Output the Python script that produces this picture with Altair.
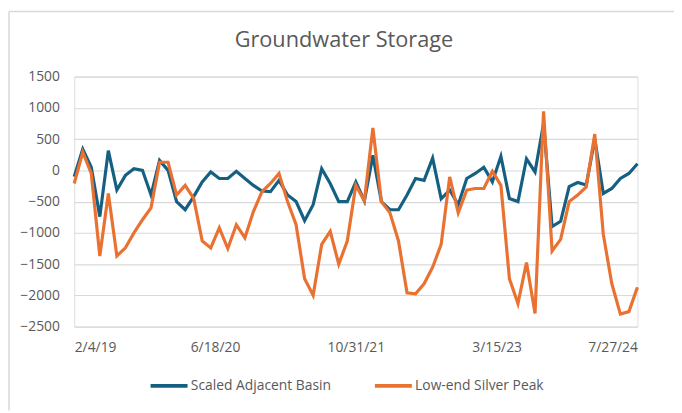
import altair as alt
import pandas as pd

series_names = ["Scaled Adjacent Basin", "Low-end Silver Peak"]
series_colors = ["#156082", "#E97132"]

basin = [-100, 340, 50, -740, 315, -315, -80, 25, 0, -395, 160, 0, -500, -630, -420, -185, -25,
         -130, -130, -15, -130, -240, -330, -340, -160, -395, -500, -805, -550, 25, -210, -500, -500,
         -185, -490, 240, -500, -630, -630, -395, -130, -160, 195, -455, -315, -550, -130, -50, 50,
         -185, 225, -450, -500, 185, -25, 750, -900, -815, -260, -195, -235, 500, -370, -290, -130, -50, 105]

silver = [-210, 290, -50, -1370, -370, -1370, -1240, -1000, -790, -600, 130, 130, -395, -240, -450, -1130, -1240,
          -920, -1250, -870, -1080, -660, -340, -210, -50, -500, -870, -1735, -2000, -1185, -975, -1500, -1130,
          -240, -490, 680, -500, -680, -1130, -1960, -1975, -1815, -1550, -1185, -105, -680, -315, -290, -290,
          -15, -240, -1735, -2130, -1475, -2290, 945, -1290, -1105, -500, -395, -265, 580, -1025, -1815, -2300, -2260, -1870]

start_date = "2019-02-04"
end_date = "2024-07-27"
tick_dates = [(2019, 2, 4), (2020, 6, 18), (2021, 10, 31), (2023, 3, 15), (2024, 7, 27)]
y_ticks = [-2500, -2000, -1500, -1000, -500, 0, 500, 1000, 1500]
title_text = "Groundwater Storage"

n = len(basin)
dates = pd.date_range(start_date, end_date, periods=n)
date_str = [d.strftime("%Y-%m-%dT%H:%M:%SZ") for d in dates]

df = pd.DataFrame({
    "date": date_str + date_str,
    "value": basin + silver,
    "series": [series_names[0]] * n + [series_names[1]] * n,
})

FONT = "Open Sans"
GRAY = "#595959"

x_enc = alt.X(
    "date:T",
    scale=alt.Scale(
        type="utc",
        domain=[alt.DateTime(year=2019, month=2, date=4, utc=True),
                alt.DateTime(year=2024, month=7, date=27, utc=True)],
        nice=False,
    ),
    axis=alt.Axis(
        values=[alt.DateTime(year=y, month=m, date=d, utc=True) for (y, m, d) in tick_dates],
        format="%-m/%-d/%y",
        title=None,
        domain=False,
        ticks=False,
        grid=False,
        labelPadding=14,
        labelFontSize=14,
        labelColor=GRAY,
        labelFont=FONT,
    ),
)
y_enc = alt.Y(
    "value:Q",
    scale=alt.Scale(domain=[-2500, 1500], nice=False),
    axis=alt.Axis(
        values=y_ticks,
        format="d",
        title=None,
        domain=False,
        ticks=False,
        grid=True,
        gridColor="#d9d9d9",
        gridWidth=1.2,
        labelPadding=15,
        labelFontSize=14,
        labelColor=GRAY,
        labelFont=FONT,
    ),
)
color_enc = alt.Color(
    "series:N",
    scale=alt.Scale(domain=series_names, range=series_colors),
    legend=alt.Legend(
        title=None,
        orient="none",
        direction="horizontal",
        legendX=75,
        legendY=292,
        symbolType="stroke",
        symbolSize=1400,
        symbolStrokeWidth=4,
        labelOffset=1,
        columnPadding=36,
        labelFontSize=14,
        labelColor=GRAY,
        labelFont=FONT,
    ),
)

base = alt.Chart(df).mark_line(strokeWidth=3.2, strokeJoin="miter").encode(
    x=x_enc, y=y_enc, color=color_enc
)
line_blue = base.transform_filter(alt.datum.series == series_names[0])
line_orange = base.transform_filter(alt.datum.series == series_names[1])

frame_data = alt.Data(values=[{"k": 1}])
top_border = alt.Chart(frame_data).mark_rule(color="#d9d9d9", strokeWidth=1.5).encode(
    x=alt.value(-66), x2=alt.value(607), y=alt.value(-66)
)
left_border = alt.Chart(frame_data).mark_rule(color="#d9d9d9", strokeWidth=1.5).encode(
    x=alt.value(-66), y=alt.value(-66), y2=alt.value(338)
)
title_mark = alt.Chart(alt.Data(values=[{"t": title_text}])).mark_text(
    font=FONT, fontSize=22, color=GRAY, align="center", baseline="alphabetic"
).encode(
    x=alt.value(273), y=alt.value(-30), text="t:N"
)

chart = alt.layer(top_border, left_border, title_mark, line_blue, line_orange).properties(
    width=570,
    height=253,
    padding={"left": 67, "top": 67, "right": 37, "bottom": 85},
    autosize=alt.AutoSizeParams(type="none"),
).configure_view(stroke=None).configure(background="white")

chart.save("out.html", embed_options={"renderer": "svg", "actions": False})
